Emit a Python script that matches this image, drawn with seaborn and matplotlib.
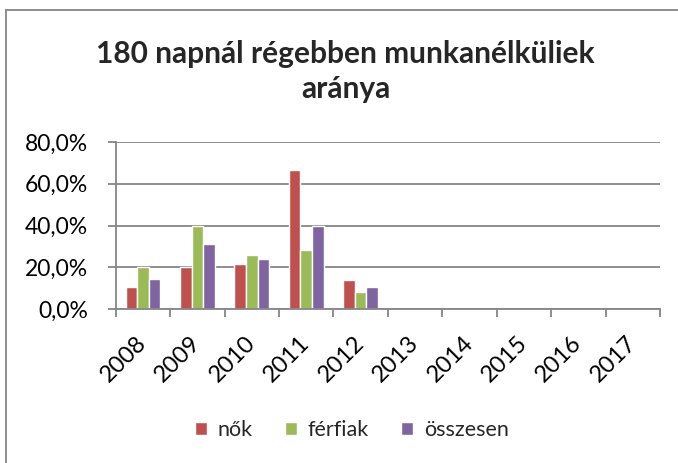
import numpy as np
import pandas as pd
import seaborn as sns
import matplotlib.pyplot as plt
from matplotlib.lines import Line2D
from matplotlib.ticker import FuncFormatter

sns.set_theme(style="white")
plt.rcParams['font.family'] = ['Lato', 'DejaVu Sans']

# Chart data (share of people unemployed for more than 180 days).
years = ['2008', '2009', '2010', '2011', '2012', '2013', '2014', '2015', '2016', '2017']
nok = [0.104, 0.200, 0.214, 0.665, 0.139, np.nan, np.nan, np.nan, np.nan, np.nan]
ferfiak = [0.200, 0.400, 0.258, 0.284, 0.080, np.nan, np.nan, np.nan, np.nan, np.nan]
osszesen = [0.144, 0.310, 0.239, 0.400, 0.104, np.nan, np.nan, np.nan, np.nan, np.nan]
series_names = ['nők', 'férfiak', 'összesen']
colors = ['#C0504D', '#9BBB59', '#8064A2']

df = pd.DataFrame({'year': years, 'nők': nok, 'férfiak': ferfiak, 'összesen': osszesen})
long_df = df.melt(id_vars='year', var_name='series', value_name='value')

fig = plt.figure(figsize=(6.78, 4.63), dpi=100)
ax = fig.add_axes([0.1707, 0.3326, 0.9735 - 0.1707, 0.6933 - 0.3326])

sns.barplot(data=long_df, x='year', y='value', hue='series', order=years,
            hue_order=series_names, palette=colors, width=0.64, errorbar=None,
            saturation=1, ax=ax)

ax.set_xlim(-0.5, len(years) - 0.5)
ax.set_ylim(0, 0.8)
ax.set_yticks([0, 0.2, 0.4, 0.6, 0.8])
ax.yaxis.set_major_formatter(FuncFormatter(lambda v, p: f'{v * 100:.1f}%'.replace('.', ',')))
ax.yaxis.grid(True, color='#868686', linewidth=1.3)
ax.set_axisbelow(True)
ax.set_xlabel('')
ax.set_ylabel('')

for side in ['top', 'right']:
    ax.spines[side].set_visible(False)
for side in ['left', 'bottom']:
    ax.spines[side].set_color('#868686')
    ax.spines[side].set_linewidth(1.3)

# Tick marks at category boundaries, labels at centres.
ax.set_xticks(np.arange(-0.5, len(years)), minor=True)
ax.tick_params(axis='x', which='minor', length=6, color='#868686', width=1.3, bottom=True)
ax.tick_params(axis='x', which='major', length=0, pad=22, labelsize=17, colors='black')
ax.tick_params(axis='y', length=6, color='#868686', width=1.3, left=True, labelsize=16.5,
               colors='black', pad=14)
for lab in ax.get_xticklabels():
    lab.set_rotation(45)
    lab.set_ha('right')
    lab.set_va('center')
    lab.set_rotation_mode('anchor')

ax.legend(loc='center', bbox_to_anchor=(352 / 678, 1 - 430 / 463),
          bbox_transform=fig.transFigure, ncol=3, frameon=False, fontsize=15.5,
          handlelength=0.55, handleheight=0.55, handletextpad=0.5, columnspacing=1.5)

fig.suptitle('180 napnál régebben munkanélküliek\naránya',
             x=0.51, y=1 - 40 / 463, fontsize=21.5, fontweight='bold', linespacing=1.32)

# Chart frame (left and top edges).
fig.add_artist(Line2D([6 / 678, 6 / 678], [0, 1 - 10 / 463], color='#868686', linewidth=1.3))
fig.add_artist(Line2D([6 / 678, 1], [1 - 10 / 463, 1 - 10 / 463], color='#868686', linewidth=1.3))

fig.savefig('out.png', dpi=100)
